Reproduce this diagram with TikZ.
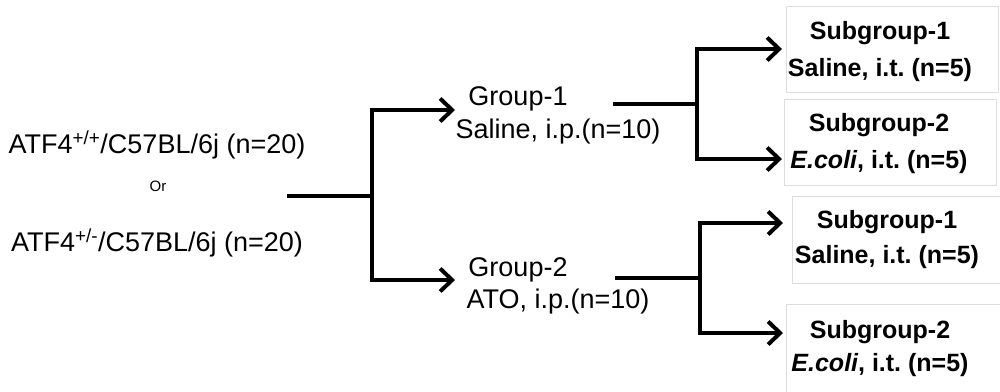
\documentclass[tikz,border=0pt]{standalone}
\usepackage{fontspec}
\setmainfont{Liberation Sans}
\usetikzlibrary{arrows.meta}
\frenchspacing
\begin{document}
\begin{tikzpicture}[x=1pt,y=-1pt,
  conn/.style={line width=4.5pt},
  arr/.style={conn,-{Straight Barb[length=12pt,width=23pt,line width=4pt]}},
  plain/.style={font=\fontsize{27}{30}\selectfont, inner sep=0pt, anchor=center},
  small/.style={font=\fontsize{15}{17}\selectfont, inner sep=0pt},
  subtxt/.style={font=\bfseries\fontsize{25}{30}\selectfont, inner sep=0pt},
  frame/.style={draw=black!13, line width=0.9pt, inner sep=0pt}
]
\useasboundingbox (0,0) rectangle (1000,391);

% starting populations
\node[plain] (wt)  at (157,145) {ATF4\textsuperscript{+/+}/C57BL/6j (n=20)};
\node[small] (or)  at (158,186) {Or};
\node[plain] (het) at (157,243) {ATF4\textsuperscript{+/-}/C57BL/6j (n=20)};

% treatment groups
\node[plain] (g1a) at (518,99)  {Group-1};
\node[plain] (g1b) at (558,132) {Saline, i.p.(n=10)};
\node[plain] (g2a) at (518,270) {Group-2};
\node[plain] (g2b) at (558,302) {ATO, i.p.(n=10)};

% subgroup frames
\node[frame, minimum width=212pt, minimum height=86pt] (b1) at (892,49)   {};
\node[frame, minimum width=212pt, minimum height=86pt] (b2) at (890,142)  {};
\node[frame, minimum width=212pt, minimum height=87pt] (b3) at (898,239.5) {};
\node[frame, minimum width=217pt, minimum height=91pt] (b4) at (894.5,349.5) {};

% subgroup labels
\node[subtxt] (s1a) at (880,33)  {Subgroup-1};
\node[subtxt] (s1b) at (880,70)  {Saline, i.t. (n=5)};
\node[subtxt] (s2a) at (879,125) {Subgroup-2};
\node[subtxt] (s2b) at (879,162) {\textit{E.coli}, i.t. (n=5)};
\node[subtxt] (s3a) at (887,222) {Subgroup-1};
\node[subtxt] (s3b) at (887,257) {Saline, i.t. (n=5)};
\node[subtxt] (s4a) at (880,332) {Subgroup-2};
\node[subtxt] (s4b) at (880,365) {\textit{E.coli}, i.t. (n=5)};

% branch points and arrow ends
\coordinate (st)   at (287,196);
\coordinate (sj)   at (372,196);
\coordinate (g1in) at (455,110);
\coordinate (g2in) at (455,280);
\coordinate (g1out) at (613,104);
\coordinate (j1)   at (697,104);
\coordinate (g2out) at (615,278);
\coordinate (j2)   at (700,278);
\coordinate (a1) at (782,49);
\coordinate (a2) at (782,159);
\coordinate (a3) at (783,223);
\coordinate (a4) at (783,333);

% connectors
\draw[conn] (st) -- (sj);
\draw[arr] (sj) |- (g1in);
\draw[arr] (sj) |- (g2in);
\draw[conn] (g1out) -- (j1);
\draw[arr] (j1) |- (a1);
\draw[arr] (j1) |- (a2);
\draw[conn] (g2out) -- (j2);
\draw[arr] (j2) |- (a3);
\draw[arr] (j2) |- (a4);
\end{tikzpicture}
\end{document}
